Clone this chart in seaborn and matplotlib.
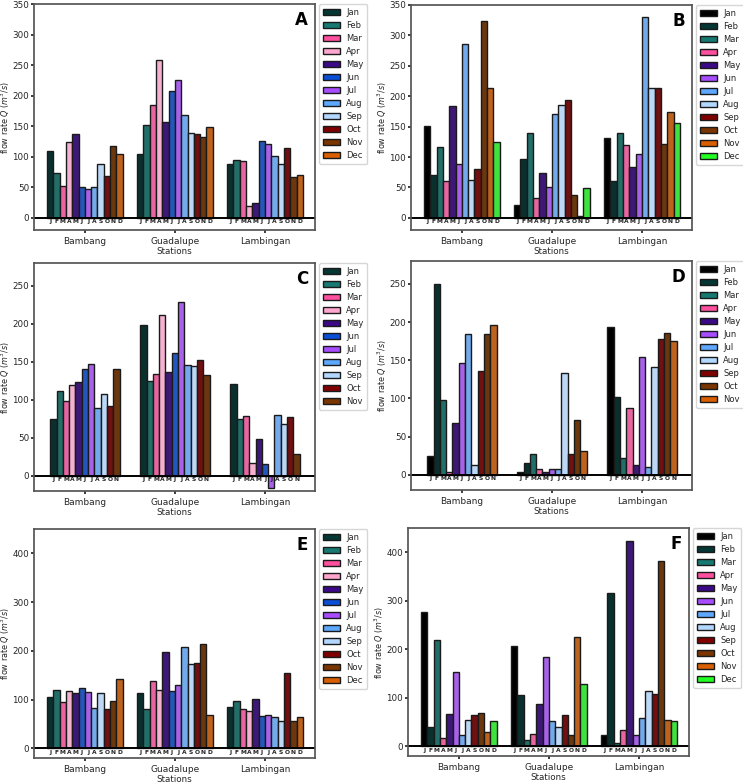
import pandas as pd
import matplotlib.pyplot as plt
import seaborn as sns
from matplotlib.patches import Patch

stations = ['Bambang', 'Guadalupe', 'Lambingan']
months = ['Jan', 'Feb', 'Mar', 'Apr', 'May', 'Jun', 'Jul', 'Aug', 'Sep', 'Oct', 'Nov', 'Dec']

# colours, two palettes
pal_a = ['#043633', '#167a72', '#ff4f9f', '#ffa6cf', '#3b0887', '#0b4fd6',
         '#a74cff', '#5ea8ff', '#b3d8ff', '#800000', '#7a3500', '#d95f02']
pal_b = ['#000000', '#043633', '#167a72', '#ff4f9f', '#3b0887', '#a74cff',
         '#5ea8ff', '#b3d8ff', '#800000', '#7a3500', '#d95f02', '#22ff22']

# panel A
a_bambang = [109, 73, 52, 124, 137, 50, 47, 51, 88, 69, 117, 105]
a_guadalupe = [105, 152, 184, 258, 156, 208, 225, 169, 138, 137, 132, 148]
a_lambingan = [88, 94, 93, 20, 25, 126, 120, 101, 88, 114, 66, 70]
# panel B
b_bambang = [151, 70, 117, 60, 184, 88, 286, 62, 80, 323, 214, 125]
b_guadalupe = [21, 96, 139, 32, 74, 51, 170, 185, 193, 37, 3, 49]
b_lambingan = [131, 61, 140, 120, 84, 105, 330, 214, 214, 122, 174, 156]
# panel C (Jan-Nov)
c_bambang = [75, 111, 99, 119, 123, 141, 147, 89, 108, 92, 141]
c_guadalupe = [199, 125, 134, 211, 136, 162, 229, 146, 145, 152, 132]
c_lambingan = [121, 75, 79, 17, 48, 15, -16, 80, 68, 77, 29]
# panel D (Jan-Nov)
d_bambang = [25, 250, 98, 3, 68, 146, 185, 13, 136, 184, 196]
d_guadalupe = [3, 15, 27, 7, 3, 8, 7, 133, 27, 72, 31]
d_lambingan = [193, 102, 22, 88, 13, 154, 10, 141, 178, 186, 175]
# panel E
e_bambang = [106, 119, 94, 117, 113, 123, 115, 82, 114, 81, 97, 143]
e_guadalupe = [113, 80, 138, 120, 198, 117, 129, 208, 172, 175, 213, 68]
e_lambingan = [84, 96, 80, 77, 102, 67, 68, 65, 56, 154, 55, 64]
# panel F
f_bambang = [277, 40, 220, 18, 66, 153, 24, 55, 65, 68, 30, 52]
f_guadalupe = [207, 106, 14, 25, 87, 185, 53, 40, 64, 24, 226, 128]
f_lambingan = [24, 315, 6, 33, 424, 23, 59, 114, 107, 382, 55, 52]

sns.set_theme(style='ticks')
plt.rcParams['font.family'] = ['DejaVu Sans']
plt.rcParams['axes.edgecolor'] = '#555555'
plt.rcParams['xtick.labelsize'] = 6.5
plt.rcParams['ytick.labelsize'] = 6.3
plt.rcParams['axes.labelsize'] = 6.3
plt.rcParams['xtick.major.size'] = 2.5
plt.rcParams['ytick.major.size'] = 2
plt.rcParams['xtick.major.pad'] = 2.5
plt.rcParams['ytick.major.pad'] = 1.5

W, H = 743, 784
fig = plt.figure(figsize=(W / 100, H / 100), dpi=100)


def panel(box, letter, data, palette, ylim, yticks):
    left, right, top, bottom = box
    ax = fig.add_axes([left / W, 1 - bottom / H, (right - left) / W, (bottom - top) / H])
    n = len(data[0])
    mlist = months[:n]
    rows = []
    for s, vals in zip(stations, data):
        for m, v in zip(mlist, vals):
            rows.append({'station': s, 'month': m, 'Q': v})
    df = pd.DataFrame(rows)
    cols = dict(zip(mlist, palette[:n]))
    sns.barplot(data=df, x='station', y='Q', hue='month', hue_order=mlist,
                order=stations, palette=cols, width=0.07 * n, errorbar=None,
                edgecolor='#1a1a1a', linewidth=1.0, ax=ax, legend=False)
    # month initials under each bar
    for i, cont in enumerate(ax.containers):
        for bar in cont:
            ax.text(bar.get_x() + bar.get_width() / 2, -2.5 * (ylim[1] - ylim[0]) / 370,
                    mlist[i][0], ha='center', va='top', fontsize=4.3,
                    fontweight='bold', color='#222222')
    ax.axhline(0, color='black', lw=1.4)
    ax.set_ylim(*ylim)
    ax.set_yticks(yticks)
    ax.set_xlim(-0.565, 2.555)
    ax.set_xlabel('Stations', labelpad=1)
    ax.set_ylabel('flow rate $Q$ ($m^3/s$)', fontsize=5.8)
    ax.yaxis.set_label_coords(-0.078, 0.5)
    ax.text(0.975, 0.97, letter, transform=ax.transAxes, ha='right', va='top',
            fontsize=12, fontweight='bold', color='black')
    handles = [Patch(facecolor=cols[m], edgecolor='#1a1a1a', linewidth=1.0, label=m)
               for m in mlist]
    ax.legend(handles=handles, loc='upper left', bbox_to_anchor=(1.015, 1.0),
              fontsize=6, frameon=True, handlelength=2.1, handleheight=0.75,
              handletextpad=0.7, labelspacing=0.48, borderaxespad=0, borderpad=0.45)
    return ax


panel((34, 315, 4, 230), 'A', [a_bambang, a_guadalupe, a_lambingan], pal_a,
      (-20, 350), range(0, 351, 50))
panel((411, 692, 5, 230), 'B', [b_bambang, b_guadalupe, b_lambingan], pal_b,
      (-20, 350), range(0, 351, 50))
panel((34, 315, 263, 491), 'C', [c_bambang, c_guadalupe, c_lambingan], pal_a,
      (-20, 280), range(0, 251, 50))
panel((411, 692, 261, 490), 'D', [d_bambang, d_guadalupe, d_lambingan], pal_b,
      (-20, 280), range(0, 251, 50))
panel((34, 315, 529, 758), 'E', [e_bambang, e_guadalupe, e_lambingan], pal_a,
      (-20, 450), range(0, 401, 100))
panel((408, 689, 528, 756), 'F', [f_bambang, f_guadalupe, f_lambingan], pal_b,
      (-20, 450), range(0, 401, 100))

fig.savefig('out.png', dpi=100)
